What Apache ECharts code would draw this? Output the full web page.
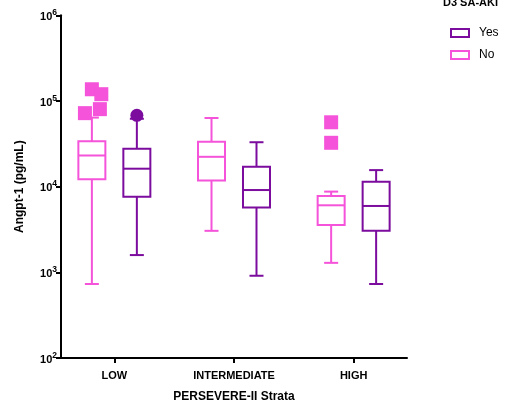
<!DOCTYPE html>
<html>
<head>
<meta charset="utf-8">
<script src="https://cdn.jsdelivr.net/npm/echarts@6/dist/echarts.min.js"></script>
<style>html,body{margin:0;padding:0;background:#fff}#c{width:515px;height:408px}</style>
</head>
<body>
<div id="c"></div>
<script>
// ---- data ----
const categories = ['LOW', 'INTERMEDIATE', 'HIGH'];
// [min, Q1, median, Q3, max] per category
const noBoxes = [
  [731, 12200, 23100, 33900, 64000],
  [3050, 11800, 22300, 33400, 63300],
  [1290, 3570, 6060, 7780, 8750]
];
const yesBoxes = [
  [1590, 7640, 16200, 27700, 62000],
  [912, 5700, 9130, 17100, 33000],
  [731, 3050, 5950, 11400, 15600]
];
// outliers: [categoryIndex, value]
const noOutliers = [[0, 137000], [0, 120000], [0, 80300], [0, 72100], [2, 56400], [2, 32500]];
const noOutlierJitter = [0, 0.079, 0.067, -0.058, 0, 0];
const yesOutliers = [[0, 68000]];
const yTickExponents = [2, 3, 4, 5, 6];

// ---- styling / layout ----
const PINK = '#F553D9';
const PURPLE = '#7B0C9E';
const OFFSET = 0.188;

function boxRenderer(offset, color) {
  return function (params, api) {
    const x = api.value(0) + offset;
    const pMin = api.coord([x, api.value(1)]);
    const pQ1 = api.coord([x, api.value(2)]);
    const pMed = api.coord([x, api.value(3)]);
    const pQ3 = api.coord([x, api.value(4)]);
    const pMax = api.coord([x, api.value(5)]);
    const cx = pMed[0];
    const hw = 13.5, cw = 7;
    const st = { stroke: color, lineWidth: 2, fill: null };
    return {
      type: 'group',
      children: [
        { type: 'line', shape: { x1: cx, y1: pMax[1], x2: cx, y2: pQ3[1] }, style: st },
        { type: 'line', shape: { x1: cx, y1: pQ1[1], x2: cx, y2: pMin[1] }, style: st },
        { type: 'line', shape: { x1: cx - cw, y1: pMax[1], x2: cx + cw, y2: pMax[1] }, style: st },
        { type: 'line', shape: { x1: cx - cw, y1: pMin[1], x2: cx + cw, y2: pMin[1] }, style: st },
        { type: 'rect', shape: { x: cx - hw, y: pQ3[1], width: hw * 2, height: pQ1[1] - pQ3[1] }, style: { stroke: color, lineWidth: 2, fill: '#fff' } },
        { type: 'line', shape: { x1: cx - hw, y1: pMed[1], x2: cx + hw, y2: pMed[1] }, style: st }
      ]
    };
  };
}

const chart = echarts.init(document.getElementById('c'), null, { renderer: 'canvas' });
const option = {
  animation: false,
  backgroundColor: '#fff',
  grid: { left: 61, right: 108, top: 15.3, bottom: 48.7, containLabel: false },
  xAxis: [{
    type: 'value', min: -0.446, max: 2.446,
    name: 'PERSEVERE-II Strata', nameLocation: 'middle', nameGap: 33,
    nameTextStyle: { fontFamily: 'Liberation Sans', fontWeight: 'bold', fontSize: 12, color: '#000' },
    axisLine: { show: true, onZero: false, lineStyle: { color: '#000', width: 2 } },
    axisTick: { show: true, customValues: [0, 1, 2], length: 5, lineStyle: { color: '#000', width: 2 } },
    axisLabel: { customValues: [0, 1, 2], formatter: v => categories[Math.round(v)] || '', margin: 12,
      fontFamily: 'Liberation Sans', fontWeight: 'bold', fontSize: 11, color: '#000' },
    splitLine: { show: false }
  }],
  yAxis: [{
    type: 'log', logBase: 10, min: 100, max: 1000000,
    name: 'Angpt-1 (pg/mL)', nameLocation: 'middle', nameGap: 35,
    nameTextStyle: { fontFamily: 'Liberation Sans', fontWeight: 'bold', fontSize: 12, color: '#000' },
    axisLine: { show: true, onZero: false, lineStyle: { color: '#000', width: 2 } },
    axisTick: { show: true, length: 5, lineStyle: { color: '#000', width: 2 } },
    minorTick: { show: false },
    axisLabel: {
      margin: 4,
      customValues: yTickExponents.map(e => Math.pow(10, e)),
      formatter: v => '{b|10}{s|' + Math.round(Math.log10(v)) + '}',
      rich: {
        b: { fontFamily: 'Liberation Sans', fontWeight: 'bold', fontSize: 11, color: '#000', lineHeight: 14, verticalAlign: 'bottom' },
        s: { fontFamily: 'Liberation Sans', fontWeight: 'bold', fontSize: 8.5, color: '#000', lineHeight: 14, verticalAlign: 'top', padding: [0, 0, 4, 0] }
      }
    },
    splitLine: { show: false }
  }],
  legend: {
    orient: 'vertical', left: 445, top: 21, itemWidth: 18, itemHeight: 8, itemGap: 8,
    icon: 'rect',
    textStyle: { fontFamily: 'Liberation Sans', fontSize: 12, color: '#000', lineHeight: 14, padding: [0, 0, 0, 5] },
    data: [
      { name: 'Yes', itemStyle: { color: '#fff', borderColor: PURPLE, borderWidth: 2 } },
      { name: 'No', itemStyle: { color: '#fff', borderColor: PINK, borderWidth: 2 } }
    ]
  },
  graphic: [{
    type: 'text', left: 443, top: -3,
    style: { text: 'D3 SA-AKI', fontFamily: 'Liberation Sans', fontWeight: 'bold', fontSize: 11, fill: '#000' }
  }],
  series: [
    {
      name: 'No', type: 'custom', renderItem: boxRenderer(-OFFSET, PINK),
      itemStyle: { color: '#fff', borderColor: PINK },
      encode: { x: 0, y: [1, 2, 3, 4, 5] },
      data: noBoxes.map((b, i) => [i].concat(b)), z: 2
    },
    {
      name: 'Yes', type: 'custom', renderItem: boxRenderer(OFFSET, PURPLE),
      itemStyle: { color: '#fff', borderColor: PURPLE },
      encode: { x: 0, y: [1, 2, 3, 4, 5] },
      data: yesBoxes.map((b, i) => [i].concat(b)), z: 2
    },
    {
      name: 'No', type: 'scatter', symbol: 'rect', symbolSize: 14,
      itemStyle: { color: PINK, opacity: 1 },
      data: noOutliers.map((o, i) => [o[0] - OFFSET + noOutlierJitter[i], o[1]]), z: 3
    },
    {
      name: 'Yes', type: 'scatter', symbol: 'circle', symbolSize: 13,
      itemStyle: { color: PURPLE, opacity: 1 },
      data: yesOutliers.map(o => [o[0] + OFFSET, o[1]]), z: 3
    }
  ]
};
chart.setOption(option);
</script>
</body>
</html>
